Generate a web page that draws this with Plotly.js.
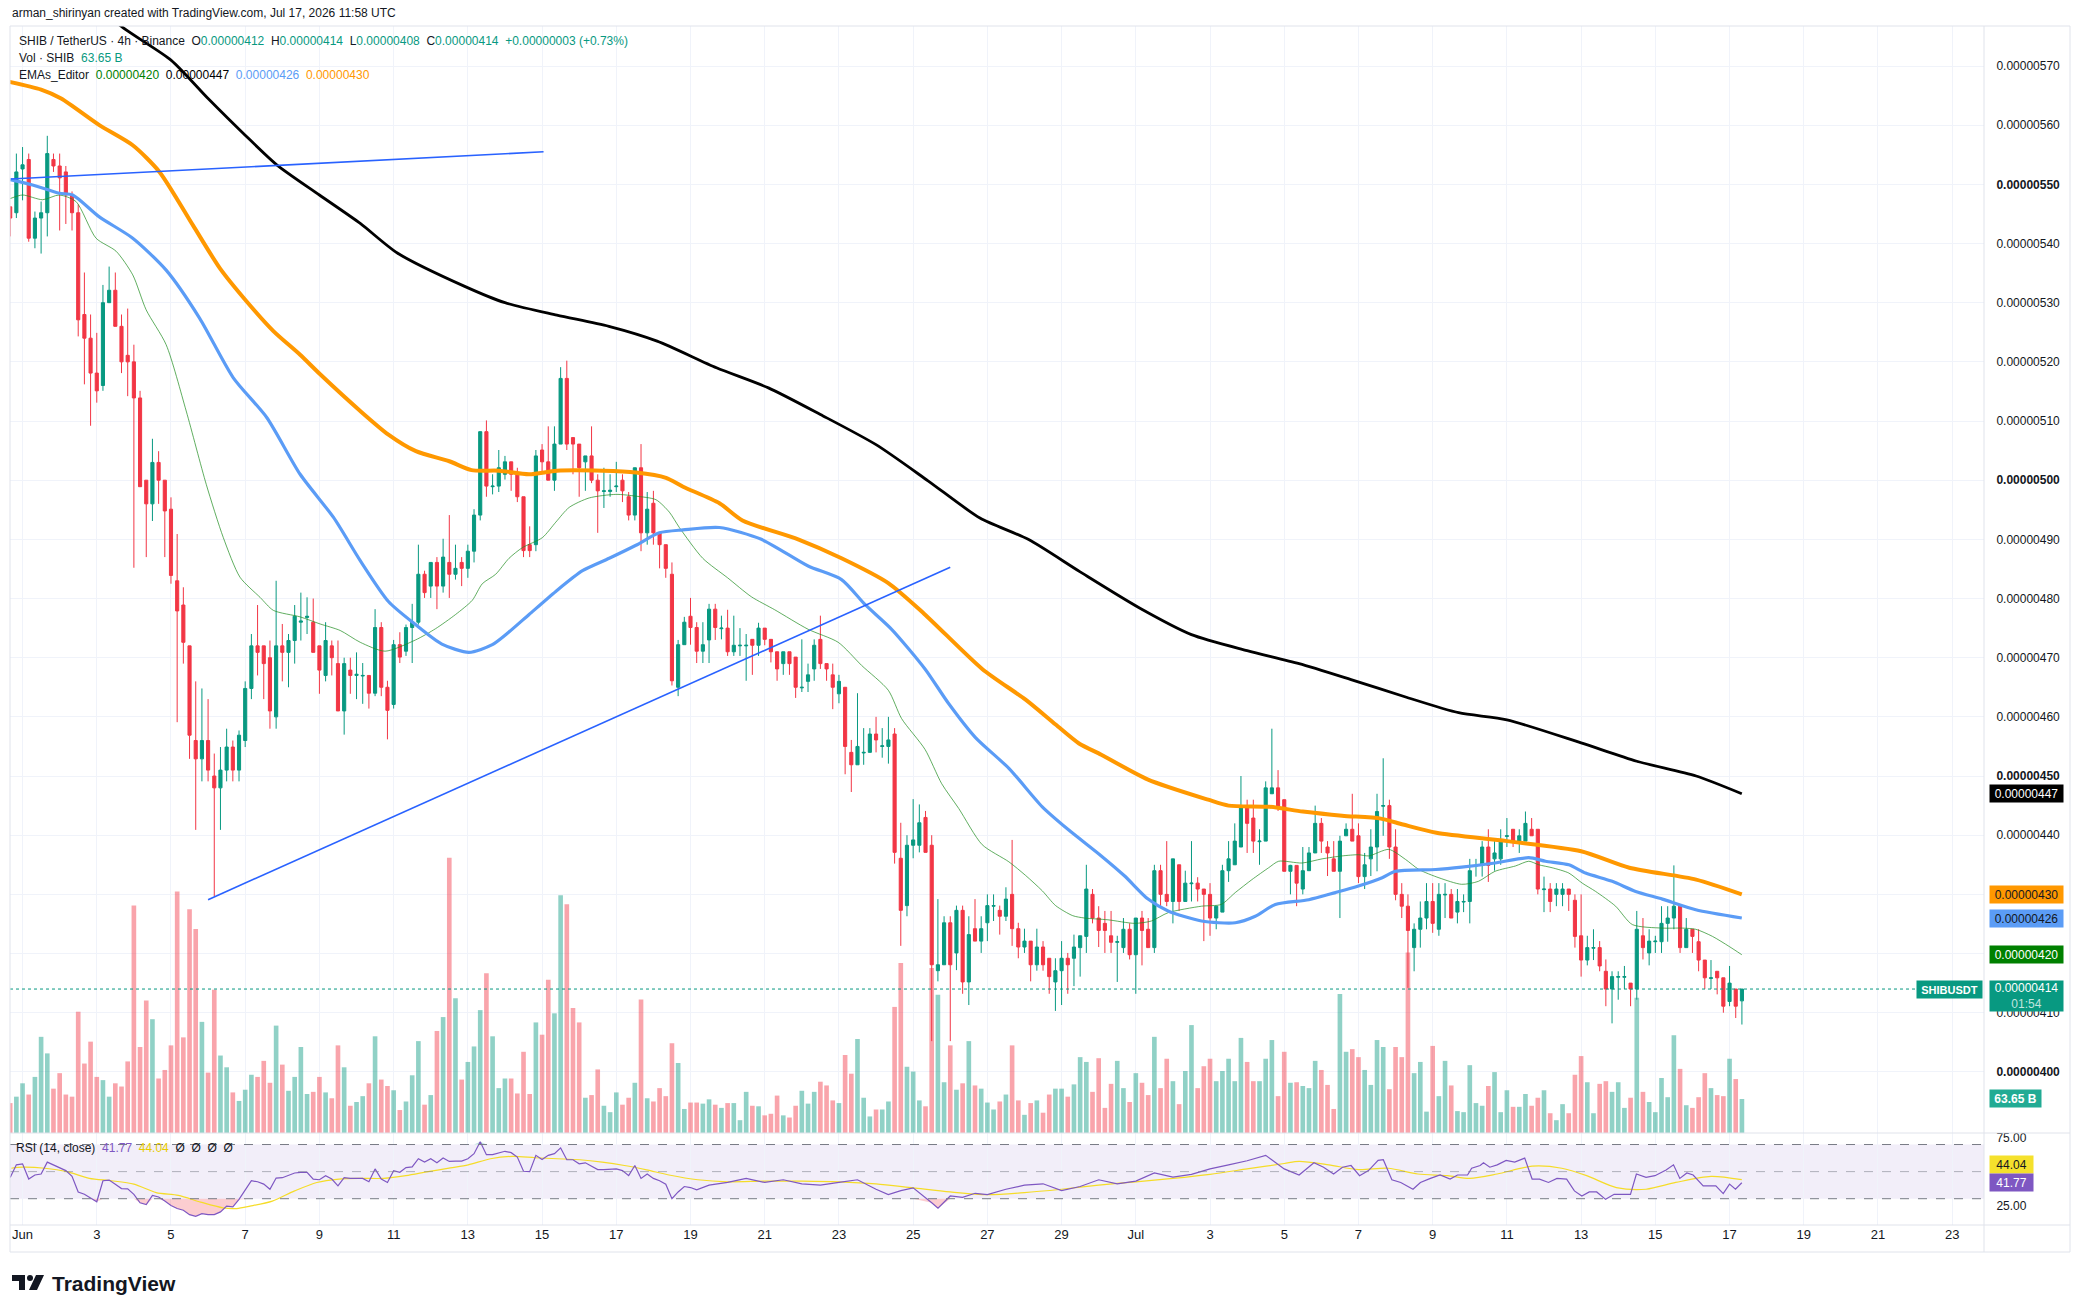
<!DOCTYPE html>
<html><head><meta charset="utf-8">
<script src="https://cdn.plot.ly/plotly-3.0.1.min.js"></script>
<style>html,body{margin:0;padding:0;background:#fff;}#chart{width:2078px;height:1312px;}</style>
</head><body><div id="chart"></div>
<script>
// ---------------- DATA (prices in units of 1e-8 USDT) ----------------
const firstCandle = Date.UTC(2026, 4, 31, 16, 0); // first 4h candle (May 31 16:00)
const candleStepHours = 4;
const dayZero = Date.UTC(2026, 5, 1, 0, 0);        // Jun 1 00:00

const opens = [546.2,545.2,552.6,554.2,540.9,544.3,545.2,554.2,553.1,552.1,
548.2,545.2,528.0,524.0,518.1,516.0,530.0,532.1,526.0,521.1,
520.0,513.9,500.0,496.0,503.0,500.0,495.1,483.0,478.9,472.0,
456.0,452.9,456.0,450.0,448.0,451.0,454.9,451.0,456.0,464.8,
472.0,472.0,470.0,460.0,472.0,470.9,472.9,476.0,476.8,476.0,
472.0,467.0,472.0,469.0,461.0,467.9,467.0,466.9,467.0,464.0,
475.1,465.0,462.1,472.2,471.1,475.1,476.0,484.1,482.1,486.1,
482.1,486.1,484.1,486.1,485.1,488.0,494.1,508.2,498.9,499.0,
501.0,503.1,501.0,497.2,489.1,489.1,505.1,503.1,500.0,506.1,
517.2,507.2,506.1,503.1,504.1,500.0,498.1,498.1,498.9,500.0,
497.2,494.1,502.1,491.1,496.1,491.1,489.1,484.1,465.0,472.2,
477.0,475.1,471.1,473.0,478.2,474.9,475.0,471.0,472.0,472.0,
473.1,472.1,475.0,473.1,471.0,469.0,471.0,470.1,464.9,466.0,
468.1,473.1,469.0,467.1,463.9,465.0,454.0,451.9,453.9,454.0,
457.1,455.0,455.0,457.1,436.1,428.1,438.3,438.3,443.0,438.3,
417.1,418.1,425.2,420.1,427.3,415.2,424.2,422.1,425.2,428.0,
427.3,426.3,430.0,424.2,421.1,422.1,418.1,421.1,419.2,415.2,
417.1,419.2,419.2,421.0,422.9,430.0,426.0,425.1,423.0,421.9,
421.0,424.1,419.8,426.0,424.1,421.0,434.0,430.0,428.8,435.0,
428.8,431.8,431.9,430.9,430.0,426.0,427.0,434.0,435.0,438.0,
445.0,442.9,438.9,439.0,447.0,448.0,446.0,433.9,434.9,430.9,
434.0,437.0,442.0,438.0,436.0,433.9,439.9,441.0,439.9,433.0,
436.0,438.0,444.9,445.0,438.0,430.0,428.0,421.0,424.1,426.0,
428.8,424.1,429.9,430.0,427.0,428.7,428.8,434.8,434.9,438.0,
436.0,436.0,439.8,441.0,439.0,439.0,441.0,441.0,430.8,430.9,
430.0,430.0,430.9,429.0,423.0,418.9,420.9,421.0,417.0,414.0,
416.0,416.0,415.0,414.0,423.0,420.1,422.0,422.0,425.1,426.0,
428.0,421.0,424.1,422.0,418.9,415.8,417.0,415.9,411.9,414.0,
412];
const highs = [546.2,555.2,556.3,555.2,545.4,547.1,558.2,555.2,555.2,553.1,
548.8,546.6,535.1,528.0,524.9,533.0,536.1,535.1,528.0,529.0,
522.9,515.1,500.0,507.0,504.9,500.0,497.1,490.9,481.9,472.0,
466.0,464.8,463.0,453.8,454.9,458.0,456.0,457.7,466.0,474.0,
478.9,472.0,472.9,483.0,475.7,474.0,478.9,481.0,480.2,480.0,
472.0,476.0,472.9,472.9,470.0,470.0,470.9,469.1,467.0,478.2,
476.0,466.1,473.0,474.3,475.6,479.1,489.1,484.7,486.1,487.0,
490.1,494.1,489.1,487.0,489.1,495.1,508.2,510.1,501.0,505.1,
504.1,503.1,502.1,497.2,492.2,505.1,506.1,509.1,509.1,519.1,
520.2,507.2,506.1,504.1,509.1,501.0,502.1,501.0,503.1,501.0,
498.0,502.1,506.1,498.0,498.2,491.1,489.1,486.1,473.0,476.9,
480.1,476.0,476.0,479.1,479.1,477.1,478.1,477.1,475.0,474.0,
473.1,475.9,475.0,473.1,471.0,471.0,471.0,470.1,473.1,469.0,
473.1,477.1,469.0,469.0,467.1,465.0,456.1,464.0,458.1,458.1,
460.0,458.1,460.0,458.1,442.1,440.0,446.1,445.2,444.1,440.0,
429.2,426.3,426.3,428.1,428.1,426.3,429.2,426.3,430.0,430.0,
428.1,431.2,439.2,425.2,424.2,422.1,424.2,422.1,419.2,419.2,
422.1,420.1,423.2,423.0,435.0,430.9,428.0,427.2,427.2,423.0,
426.0,425.1,426.0,427.2,426.0,435.0,435.0,439.0,436.0,435.0,
434.0,439.0,432.9,430.9,431.9,428.0,435.0,439.0,442.0,450.0,
446.0,446.0,441.0,449.1,458.0,451.0,446.0,435.0,434.9,438.0,
438.0,445.0,442.9,439.0,439.0,439.9,442.0,447.0,442.0,437.0,
441.0,447.0,453.0,446.0,441.0,431.9,430.0,425.1,428.8,431.9,
431.9,431.9,431.9,430.9,430.9,430.0,436.0,436.0,439.0,441.0,
439.0,441.0,442.9,441.0,441.0,444.0,442.9,441.0,433.0,431.9,
431.9,431.9,430.9,430.0,430.0,423.0,424.1,422.1,419.0,417.0,
417.0,417.9,415.0,427.2,426.0,424.1,423.0,428.0,428.0,434.9,
428.0,426.0,424.1,424.1,418.9,418.9,417.0,415.9,417.9,414.0,
414];
const lows = [541.2,544.3,547.3,540.3,539.2,538.3,541.2,552.1,542.2,543.3,
542.2,524.3,516.2,509.2,513.1,515.1,530.0,526.0,518.1,514.2,
485.2,498.9,487.0,493.1,496.0,487.0,482.5,459.1,469.0,452.9,
440.9,449.1,449.1,429.7,440.9,449.1,449.1,449.1,454.9,463.0,
467.0,463.0,458.0,458.0,466.0,465.0,469.0,472.9,474.0,470.9,
463.9,466.0,467.0,461.0,457.0,463.9,463.0,462.2,461.4,463.5,
463.5,456.2,461.4,469.1,470.3,469.1,475.6,480.1,480.1,478.2,
481.0,480.1,483.2,482.1,483.5,486.1,493.2,497.2,497.6,498.0,
500.1,498.2,496.3,487.0,487.0,488.0,501.5,500.0,498.2,506.1,
505.1,501.0,497.2,498.2,499.5,491.1,495.3,497.2,498.0,496.3,
493.2,493.2,488.0,489.1,489.1,485.1,483.5,465.3,463.5,472.2,
472.2,469.1,469.1,469.1,473.0,473.1,470.3,470.3,470.3,466.1,
467.1,470.3,472.1,469.2,466.1,467.1,467.1,463.2,464.2,464.2,
466.1,468.1,466.1,461.3,462.3,450.3,447.3,451.9,451.9,454.0,
454.0,453.1,452.1,435.2,421.3,426.3,436.1,437.1,437.1,405.2,
415.3,418.1,405.2,417.2,413.2,411.3,422.1,420.1,422.1,425.5,
423.2,425.5,421.3,419.2,420.1,415.3,417.1,417.1,413.2,410.3,
411.3,413.2,414.5,416.1,420.1,425.1,421.1,420.1,420.1,415.2,
420.1,419.0,413.2,418.0,421.0,420.1,428.0,428.0,425.1,427.2,
428.8,428.8,428.8,422.1,423.0,424.1,427.0,432.1,435.0,438.0,
437.0,437.0,435.0,439.0,447.0,444.1,433.9,430.0,428.0,430.0,
434.0,437.0,437.0,433.1,433.9,426.0,439.9,439.0,431.9,430.9,
433.1,433.9,439.9,436.0,429.0,426.0,414.2,417.0,421.0,424.1,
423.5,423.0,426.0,426.0,425.1,427.0,425.1,433.0,433.0,432.1,
434.0,435.0,438.0,438.0,437.0,439.0,439.9,430.0,427.0,427.0,
428.0,428.0,427.2,421.0,416.1,418.0,418.9,417.0,411.1,408.2,
412.2,414.0,411.1,412.2,419.0,418.0,420.1,420.1,422.0,424.1,
420.1,421.0,420.1,417.0,414.0,414.0,413.1,410.0,411.1,409.1,
408];
const closes = [544.3,552.1,553.3,540.9,544.3,545.2,555.2,553.1,551.1,548.2,
545.2,527.1,524.0,518.1,515.1,530.0,532.1,526.0,520.0,520.0,
513.9,498.9,496.0,503.0,500.0,494.8,483.9,477.9,472.6,456.9,
452.9,456.0,451.0,448.0,451.0,454.9,451.0,456.9,464.8,472.0,
470.9,469.0,461.0,472.0,470.9,472.9,477.0,476.2,477.0,470.9,
467.9,472.9,470.0,461.0,469.0,467.0,467.2,467.0,464.0,475.1,
465.0,461.1,472.2,470.1,475.1,476.0,484.1,481.0,486.1,482.1,
487.0,484.1,485.1,485.1,488.0,494.1,508.2,499.0,499.0,502.1,
503.1,501.0,497.2,488.1,488.1,504.1,503.1,500.0,506.1,517.2,
506.1,506.1,502.1,504.1,500.0,498.2,498.2,498.3,499.0,498.2,
494.1,502.1,491.1,495.1,491.1,489.1,485.1,466.1,472.2,476.0,
475.1,471.1,472.2,478.2,475.1,475.0,471.0,472.1,472.1,472.1,
472.1,475.0,473.1,471.0,468.1,471.0,469.0,465.0,465.0,467.1,
472.1,469.0,468.1,465.0,466.0,455.0,451.9,455.0,454.0,457.1,
456.1,455.1,456.1,437.1,427.3,438.3,439.2,442.1,437.1,418.1,
418.1,425.2,418.1,427.3,415.2,423.2,422.1,424.2,428.1,428.1,
426.3,429.2,424.2,421.1,422.1,418.1,421.1,418.1,416.1,417.1,
419.2,418.1,421.1,423.0,430.9,426.0,423.9,423.9,421.9,422.0,
424.1,419.8,426.0,423.9,421.0,434.0,430.0,428.8,436.0,428.8,
431.9,431.9,430.9,430.0,426.0,428.0,434.0,436.0,439.0,445.0,
442.0,439.0,439.0,448.0,448.0,444.9,433.9,434.9,431.9,434.0,
437.0,442.0,439.0,437.0,433.9,439.0,441.0,439.0,433.0,435.0,
438.0,444.0,445.0,438.0,430.0,428.0,423.9,424.1,426.0,428.8,
425.1,430.0,430.0,426.0,428.8,428.8,434.0,434.9,438.0,434.9,
437.0,439.0,439.9,439.0,439.9,442.0,439.9,430.9,430.9,428.8,
430.9,430.9,430.0,422.9,418.9,421.0,421.0,417.9,414.0,416.1,
416.1,416.1,414.0,424.1,421.0,422.1,422.1,425.1,426.0,428.0,
421.0,424.1,422.9,418.9,415.9,415.9,415.9,411.1,415.0,411.1,
414];
// volume in billions of SHIB
const volumes = [56,68,93,72,105,180,149,83,112,72,
68,227,130,171,105,99,68,93,87,134,
426,161,248,213,102,118,164,452,179,419,
382,208,113,268,145,123,76,60,81,109,
105,135,94,201,128,79,105,161,73,77,
105,76,65,164,123,51,58,69,93,181,
100,88,80,43,59,108,172,53,71,191,
217,515,252,100,133,162,230,299,181,84,
102,102,74,152,73,207,184,287,224,445,
428,234,207,66,71,119,51,39,76,53,
66,94,250,65,59,84,69,168,131,45,
57,57,55,63,53,47,56,56,24,77,
51,50,33,36,70,33,29,51,79,55,
77,96,89,61,56,146,111,176,66,31,
44,44,59,236,318,124,115,61,50,309,
259,95,164,81,93,172,89,83,57,44,
59,72,164,61,34,56,61,38,72,83,
83,68,91,142,133,77,140,47,92,135,
84,58,112,94,71,180,84,139,97,54,
116,202,84,125,139,97,116,139,97,178,
133,97,97,139,174,69,152,94,95,88,
84,135,118,90,45,260,152,157,142,118,
90,174,161,82,161,142,338,112,133,40,
163,69,135,89,41,39,127,56,51,88,
114,39,80,49,49,73,51,66,80,37,
24,54,37,109,144,95,37,92,97,77,
95,47,66,253,77,58,39,103,67,183,
120,52,47,67,112,84,71,69,139,101,
63.65];

// EMA lines, sampled (day offset from Jun 1 00:00, value)
const emaBlackDays = [1.5,2.6,4.0,5.0,6.0,6.85,8.0,9.1,10.1,11.9,13.0,14.4,15.8,17.1,18.7,20.1,21.5,23.0,24.4,25.8,27.1,28.5,30.1,31.5,33.0,34.4,35.8,37.25,38.7,40.0,42.0,43.5,45.1,46.33];
const emaBlackVals = [584,577,571,564.5,558.3,553.3,548.2,543.4,538.4,532.8,530,527.9,526,523.5,519,515.6,511.1,506,499.9,493.6,490,484.5,478.4,473.9,471.2,469,466.3,463.4,460.7,459.5,455.6,452.5,450,447];
const emaOrangeDays = [-0.35,0.5,1.04,2.07,2.97,3.69,4.59,5.32,6.04,6.76,7.48,8.02,9.1,9.86,10.6,11.5,12.1,12.84,13.65,14.4,15.63,16.53,17.34,17.8,18.78,19.4,20.9,22.07,23.33,24.3,25.86,27.03,27.84,28.47,29.07,30.33,31.95,32.5,33.6,34.5,35.56,36.6,37.2,38.1,40,42,43.3,45.1,46.33];
const emaOrangeVals = [567.3,566,564.5,560,556.6,552.1,543.1,535.8,530.2,525.2,521.2,517.9,511.7,507.7,504.9,503.2,501.7,501.6,501,501.6,501.6,501.3,500.4,498.9,496.1,493.2,490,486.8,482.6,477.4,468.1,462.9,458.7,455.5,453.6,449.4,446,445,444.8,444,443.3,442.8,441.8,440.4,439,437.3,434.5,432.5,430];
const emaBlueDays = [-0.33,0.27,0.99,1.35,2.07,2.97,3.87,4.77,5.68,6.58,7.48,8.38,9.1,9.86,10.59,11.3,12.03,12.66,13.1,13.65,14.37,15.09,15.81,16.53,17.16,17.8,18.78,19.91,21.17,22.07,22.7,23.42,24.32,24.95,25.68,26.58,27.48,28.17,29.07,29.7,30.33,30.87,31.77,32.68,33.22,33.76,34.66,35.38,36.0,36.64,37.0,38.08,38.78,39.68,40.59,41.04,41.67,42.12,42.84,43.47,44.19,45.09,46.33];
const emaBlueVals = [550.8,549.9,548.5,548.2,544.5,540.9,535.5,527.4,517.3,510.6,501,493.7,486.4,479.5,475.6,472.3,470.9,472.2,474.3,477.3,481.2,484.7,486.8,489,491.1,491.6,492,490,485.5,483.2,479,474.8,468.1,462.3,456.5,451.3,444.8,441,436.5,433.1,429.2,427.2,425.5,425.2,426.3,428.3,429.1,430.3,431.4,432.8,433.9,434.2,434.6,435.3,436.2,435.6,435,433.6,432.2,430.5,429.2,427.4,426];
const emaGreenDays = [-0.33,0,0.54,0.99,1.44,1.98,2.52,2.97,3.33,3.87,4.41,4.95,5.41,5.86,6.4,6.76,7.48,8.02,8.56,9.1,9.77,10.59,11.13,11.67,12.12,12.39,12.75,13.11,13.47,14.01,14.37,14.73,15.27,15.99,16.53,17.07,17.43,17.7,18.33,19.0,19.64,20.27,21.17,21.98,22.61,23.33,23.69,24.32,24.77,25.23,25.86,26.58,27.03,27.48,27.84,28.3,28.62,29.25,29.97,30.42,30.87,31.77,32.3,32.68,33.13,33.58,33.85,34.48,35.02,35.56,36.0,36.28,36.82,37.27,37.63,38.17,38.78,39.23,39.68,40.23,40.59,40.86,41.22,41.67,42.03,42.39,42.93,43.38,44.19,44.73,45.09,45.54,45.99,46.33];
const emaGreenVals = [547.6,548.2,547.4,548.2,547.1,540.9,538.7,534.7,528.8,522.9,511.7,499.3,490.3,483.6,480.2,478,476.9,475.7,474.6,472.6,471.1,473,474.9,477.3,479.7,482.5,484.1,486.8,488.6,490.3,492.9,495.4,497,497.6,497.3,496.7,494.6,492,486.8,483.5,480.3,478.1,474.8,472.6,468.7,464.5,459.7,454.5,448.7,444.5,438.4,435.5,433.2,430.6,428.1,426.4,426,425.7,425.1,425.5,426.9,428,428.3,430.3,432.5,434.5,435.6,435.3,436,436.5,436.7,436.5,437.6,435.9,434.2,432.8,431.7,432.2,433.9,434.8,435.6,435,434.5,433.6,431.9,430.5,428,424.9,424.3,424.3,424.1,422.9,421.2,419.8];

// Drawn trendlines (day offset, value)
const trend1Days = [-0.32, 14.04], trend1Vals = [550.9, 555.5];
const trend2Days = [5.0, 25.0],    trend2Vals = [429.1, 485.3];

// RSI(14): first values one per candle, later ones sampled by day
const rsiEarly = [45.75,55,55.75,44.5,47.5,48.25,57,55,53.25,50.75,
46.5,35,33.25,30.75,27.75,43.25,43.75,40.75,37.5,37.25,
33.25,27,25.75,32.5,31.25,28.25,25,22.75,21.5,18.25,
17,19,18.25,18.25,20.25,24.5,24,29.5,36.5,43.25,
42.5,40.75,37,45.25,45.5,47.5,49,49.5,49.5,44.5,
44,47,44.5,39.5,45.5,45,45,45,42.5,52,
44.5,42,50.75,49.5,53,53.5,59.5,57,59.5,56.5,
60,57.5,57.75,57.75,59.5,63.25,72,62.5,62.5,63.75,
65,64,60.75,50.25,50,62,59,62,63.25,67.5,
58.75,58.75,55.75,56.5,54,51.5,51.5,51.75,52,50.75,
47,54.5,45,48.25,45,43.25,40.75,30,35,39,
38.25,36.5];
const rsiLateDays = [18.5,19,19.5,20,20.5,21,21.5,22,22.5,23,23.33,23.67,24,24.5,24.67,25,25.33,25.67,26,26.5,27,27.5,28,28.5,29,29.5,30,30.5,31,31.5,32,32.5,33,33.5,34,
34.4,34.6,34.8,35.06,35.33,35.57,35.8,36.03,36.27,36.53,36.67,36.9,37.14,37.47,37.67,37.94,38.2,38.47,38.67,38.94,39.05,39.28,39.37,39.54,39.74,39.98,40.21,40.48,40.68,40.88,41.12,41.35,41.61,41.82,42.02,42.22,42.42,42.66,42.89,43.33,43.49,43.75,43.99,44.29,44.49,44.66,44.85,45.02,45.29,45.63,45.83,46.0,46.16,46.33];
const rsiLateVals = [40,42,45,42,44,41,40,42,44,37,33,36,38,27,23,32,31,34,33,37,40,41,36,39,44,41,43,49,46,48,52,55,58,62,52,
47.5,52,56.5,53.25,48.25,53.25,54.5,47,50.75,58.25,58.75,44,42,37,42,45,47.5,44.5,47.5,47.5,52.5,54.5,56.5,53.25,55,58.25,57,60,44.5,44.5,42,45,44.5,35.75,32,35,35,29.5,33.25,33.25,48.25,45.75,47,51.25,55,45,49,47.5,39.5,39.5,33.75,40.75,37,41.77];
const rsiMaDays = [-0.3,0,0.6,1.2,1.8,2.4,3.0,3.6,4.2,4.8,5.4,5.77,6.13,6.73,7.33,7.93,8.53,9.13,9.73,10.33,10.93,11.53,12.01,12.61,13.21,13.81,14.41,15.02,15.62,16.22,16.82,17.42,18.2,19,20,21,22,23,24,25,26,27,28,29,30,31,32,33,34,34.4,35.2,36,36.8,37.6,38.4,39.0,39.74,40.68,41.48,42.15,42.95,43.75,44.55,45.5,46.33];
const rsiMaVals = [52.5,53.25,52.5,50,45,43.25,40.75,34.5,32.5,27.5,23.25,22.75,24.5,28.25,35.75,42,44.5,45,45,47,50,52.75,55,59.5,61.25,60.25,59.5,58.75,57,54.5,51.25,47.5,44,42.5,43,43,42.5,41,38,35,33,34.5,37,40,42.5,45,48,52,56,57.5,55,51.5,52.5,48.25,47,45,48.25,54,52.5,47,38.25,37,42,46.5,44.04];

const priceTicks = [400,410,420,430,440,450,460,470,480,490,500,510,520,530,540,550,560,570];
const dateTickDays = []; for (let d = 0; d <= 52; d += 2) dateTickDays.push(d);
const dateTickText = ['Jun','3','5','7','9','11','13','15','17','19','21','23','25','27','29','Jul','3','5','7','9','11','13','15','17','19','21','23'];

// ---------------- helpers ----------------
const fmt = ms => new Date(ms).toISOString().slice(0,16).replace('T',' ');
const dayX = d => fmt(dayZero + d*86400000);
const times = opens.map((_, i) => fmt(firstCandle + i*candleStepHours*3600000));
const toPrice = v => (v*1e-8).toFixed(8);

const fontUI = '"Liberation Sans Narrow","Liberation Sans",Arial,sans-serif';
const fontAx = '"Liberation Sans",Arial,sans-serif';
const TXT = '#131722', UP = '#089981', DN = '#f23645';
const PL = 10, PR = 1984, PT = 26, PB = 1225, MAINB = 1133;
const pxX = x => (x - PL)/(PR - PL);
const pxY = y => (PB - y)/(PB - PT);
const dMain = (PB - MAINB)/(PB - PT);

// ---------------- traces ----------------
const traces = [];
traces.push({type:'bar', x:times, y:volumes, xaxis:'x', yaxis:'y',
  marker:{color:closes.map((c,i)=> c>=opens[i] ? 'rgba(8,153,129,0.45)' : 'rgba(242,54,69,0.45)'), line:{width:0}},
  hoverinfo:'skip'});
traces.push({type:'candlestick', x:times, open:opens, high:highs, low:lows, close:closes, xaxis:'x', yaxis:'y2',
  increasing:{line:{color:UP, width:1}, fillcolor:UP}, decreasing:{line:{color:DN, width:1}, fillcolor:DN},
  whiskerwidth:0, hoverinfo:'skip'});
const lineTrace = (days, vals, color, width) => ({type:'scatter', mode:'lines', x:days.map(dayX), y:vals,
  xaxis:'x', yaxis:'y2', line:{color, width, shape:'spline', smoothing:0.7}, hoverinfo:'skip'});
traces.push(lineTrace(emaGreenDays, emaGreenVals, 'rgba(30,140,30,0.7)', 1));
traces.push(lineTrace(emaBlueDays, emaBlueVals, '#5b9cf6', 3.2));
traces.push(lineTrace(emaOrangeDays, emaOrangeVals, '#ff9800', 4));
traces.push(lineTrace(emaBlackDays, emaBlackVals, '#000000', 2.8));
traces.push({type:'scatter', mode:'lines', x:trend1Days.map(dayX), y:trend1Vals, xaxis:'x', yaxis:'y2', line:{color:'#2962ff', width:1.6}, hoverinfo:'skip'});
traces.push({type:'scatter', mode:'lines', x:trend2Days.map(dayX), y:trend2Vals, xaxis:'x', yaxis:'y2', line:{color:'#2962ff', width:1.6}, hoverinfo:'skip'});

const rsiX = times.slice(0, rsiEarly.length).concat(rsiLateDays.map(dayX));
const rsiY = rsiEarly.concat(rsiLateVals);
traces.push({type:'scatter', mode:'lines', x:rsiX, y:rsiX.map(()=>30), xaxis:'x', yaxis:'y3', line:{width:0, color:'rgba(0,0,0,0)'}, hoverinfo:'skip'});
traces.push({type:'scatter', mode:'lines', x:rsiX, y:rsiY.map(v=>Math.min(v,30)), xaxis:'x', yaxis:'y3', fill:'tonexty', fillcolor:'rgba(242,54,69,0.25)', line:{width:0, color:'rgba(0,0,0,0)'}, hoverinfo:'skip'});
traces.push({type:'scatter', mode:'lines', x:rsiX, y:rsiX.map(()=>70), xaxis:'x', yaxis:'y3', line:{width:0, color:'rgba(0,0,0,0)'}, hoverinfo:'skip'});
traces.push({type:'scatter', mode:'lines', x:rsiX, y:rsiY.map(v=>Math.max(v,70)), xaxis:'x', yaxis:'y3', fill:'tonexty', fillcolor:'rgba(8,153,129,0.25)', line:{width:0, color:'rgba(0,0,0,0)'}, hoverinfo:'skip'});
traces.push({type:'scatter', mode:'lines', x:rsiMaDays.map(dayX), y:rsiMaVals, xaxis:'x', yaxis:'y3', line:{color:'#f5dc28', width:1.2, shape:'spline', smoothing:0.8}, hoverinfo:'skip'});
traces.push({type:'scatter', mode:'lines', x:rsiX, y:rsiY, xaxis:'x', yaxis:'y3', line:{color:'#7e57c2', width:1.2}, hoverinfo:'skip'});

// ---------------- shapes ----------------
const FR = 2070, FB = 1252;
const frameCol = '#e0e3eb';
const hline = (y, x0, x1, color, w) => ({type:'line', xref:'paper', yref:'paper', x0:pxX(x0), x1:pxX(x1), y0:pxY(y), y1:pxY(y), line:{color, width:w}});
const vline = (x, y0, y1, color, w) => ({type:'line', xref:'paper', yref:'paper', x0:pxX(x), x1:pxX(x), y0:pxY(y0), y1:pxY(y1), line:{color, width:w}});
const shapes = [
  {type:'rect', xref:'paper', yref:'y3', x0:0, x1:1, y0:30, y1:70, fillcolor:'rgba(126,87,194,0.1)', line:{width:0}, layer:'below'},
  {type:'line', xref:'paper', yref:'y3', x0:0, x1:1, y0:70, y1:70, line:{color:'#787b86', width:1, dash:'dash'}},
  {type:'line', xref:'paper', yref:'y3', x0:0, x1:1, y0:50, y1:50, line:{color:'rgba(120,123,134,0.55)', width:1, dash:'dash'}},
  {type:'line', xref:'paper', yref:'y3', x0:0, x1:1, y0:30, y1:30, line:{color:'#787b86', width:1, dash:'dash'}},
  {type:'line', xref:'paper', yref:'y2', x0:0, x1:1, y0:closes[closes.length-1], y1:closes[closes.length-1], line:{color:UP, width:1, dash:'dot'}},
  hline(PT, PL, FR, frameCol, 1), hline(MAINB, PL, FR, frameCol, 1), hline(PB, PL, FR, frameCol, 1), hline(FB, PL, FR, frameCol, 1),
  vline(PL, PT, FB, frameCol, 1), vline(PR, PT, FB, frameCol, 1), vline(FR, PT, FB, frameCol, 1),
  // TradingView logo glyph
  {type:'rect', xref:'paper', yref:'paper', x0:pxX(12), x1:pxX(25), y0:pxY(1275), y1:pxY(1281), fillcolor:'#131722', line:{width:0}},
  {type:'rect', xref:'paper', yref:'paper', x0:pxX(19), x1:pxX(25), y0:pxY(1275), y1:pxY(1290), fillcolor:'#131722', line:{width:0}},
  {type:'circle', xref:'paper', yref:'paper', x0:pxX(27), x1:pxX(33), y0:pxY(1275), y1:pxY(1281), fillcolor:'#131722', line:{width:0}},
  {type:'path', xref:'paper', yref:'paper', path:`M ${pxX(36)} ${pxY(1275)} L ${pxX(44)} ${pxY(1275)} L ${pxX(37)} ${pxY(1290)} L ${pxX(29)} ${pxY(1290)} Z`, fillcolor:'#131722', line:{width:0}}
];

// ---------------- annotations ----------------
const sp = '\u00a0\u00a0';
const teal = s => `<span style="color:${UP}">${s}</span>`;
const lastIdx = closes.length - 1;
const chg = closes[lastIdx] - closes[lastIdx-1];
const ann = [];
const txt = (x, y, text, size, extra) => Object.assign({xref:'paper', yref:'paper', x:pxX(x), y:pxY(y), xanchor:'left', yanchor:'middle', showarrow:false, text, font:{family:fontUI, size, color:TXT}}, extra||{});
ann.push(txt(10, 13, 'arman_shirinyan created with TradingView.com, Jul 17, 2026 11:58 UTC', 12));
ann.push(txt(17, 41, 'SHIB / TetherUS · 4h · Binance' + sp + 'O' + teal(toPrice(opens[lastIdx])) + sp + 'H' + teal(toPrice(highs[lastIdx])) + sp + 'L' + teal(toPrice(lows[lastIdx])) + sp + 'C' + teal(toPrice(closes[lastIdx])) + sp + teal('+' + toPrice(chg) + ' (+0.73%)'), 12));
ann.push(txt(17, 58, 'Vol · SHIB' + sp + teal(volumes[lastIdx].toFixed(2) + '\u00a0B'), 12));
ann.push(txt(17, 75, 'EMAs_Editor' + sp + `<span style="color:#008000">${toPrice(emaGreenVals[emaGreenVals.length-1])}</span>` + sp + `<span style="color:#000">${toPrice(emaBlackVals[emaBlackVals.length-1])}</span>` + sp + `<span style="color:#5b9cf6">${toPrice(emaBlueVals[emaBlueVals.length-1])}</span>` + sp + `<span style="color:#ff9800">${toPrice(emaOrangeVals[emaOrangeVals.length-1])}</span>`, 12));
ann.push(txt(14, 1148, 'RSI (14, close)' + sp + `<span style="color:#7e57c2">${rsiLateVals[rsiLateVals.length-1].toFixed(2)}</span>` + sp + `<span style="color:#e8cc00">${rsiMaVals[rsiMaVals.length-1].toFixed(2)}</span>` + sp + 'Ø' + sp + 'Ø' + sp + 'Ø' + sp + 'Ø', 12));
ann.push(txt(50, 1283, '<b>TradingView</b>', 21, {font:{family:fontAx, size:21, color:'#131722'}}));

const box = (yref, y, text, bg, fg, w, extra) => Object.assign({xref:'paper', x:1, xanchor:'left', xshift:5, yref, y, yanchor:'middle', showarrow:false, text, bgcolor:bg, width:w, height:14, borderpad:1.5, align:'center', font:{family:fontAx, size:12, color:fg}}, extra||{});
ann.push(box('y2', emaBlackVals[emaBlackVals.length-1], toPrice(emaBlackVals[emaBlackVals.length-1]), '#000000', '#ffffff', 70));
ann.push(box('y2', emaOrangeVals[emaOrangeVals.length-1], toPrice(emaOrangeVals[emaOrangeVals.length-1]), '#ff9800', '#131722', 70));
ann.push(box('y2', emaBlueVals[emaBlueVals.length-1], toPrice(emaBlueVals[emaBlueVals.length-1]), '#5b9cf6', '#131722', 70));
ann.push(box('y2', emaGreenVals[emaGreenVals.length-1], toPrice(emaGreenVals[emaGreenVals.length-1]), '#008000', '#ffffff', 70));
ann.push(box('y2', closes[lastIdx], toPrice(closes[lastIdx]) + '<br><span style="color:rgba(255,255,255,0.75)">01:54</span>', UP, '#ffffff', 70, {yanchor:'top', yshift:9, height:27}));
ann.push(box('y2', closes[lastIdx], '<b>SHIBUSDT</b>', UP, '#ffffff', 62, {xanchor:'right', xshift:-1, font:{family:fontAx, size:11, color:'#ffffff'}}));
ann.push(box('y', volumes[lastIdx], '<b>' + volumes[lastIdx].toFixed(2) + '\u00a0B</b>', '#22ab94', '#ffffff', 48));
ann.push(box('y3', rsiMaVals[rsiMaVals.length-1], rsiMaVals[rsiMaVals.length-1].toFixed(2), '#f5e12c', '#131722', 40, {yshift:15}));
ann.push(box('y3', rsiLateVals[rsiLateVals.length-1], rsiLateVals[rsiLateVals.length-1].toFixed(2), '#7e57c2', '#ffffff', 40));

// ---------------- layout ----------------
const layout = {
  width:2078, height:1312, margin:{l:PL, r:2078-PR, t:PT, b:1312-PB, pad:0},
  paper_bgcolor:'#ffffff', plot_bgcolor:'#ffffff', showlegend:false, hovermode:false, dragmode:false,
  bargap:0.25, boxgap:0.28,
  xaxis:{type:'date', anchor:'y3', range:[dayX(-0.3377), dayX(52.857)],
    tickmode:'array', tickvals:dateTickDays.map(dayX), ticktext:dateTickText,
    showgrid:true, gridcolor:'#f0f3fa', gridwidth:1, ticks:'', zeroline:false, showline:false,
    tickfont:{family:fontUI, size:13, color:TXT}, rangeslider:{visible:false}, fixedrange:true},
  yaxis:{domain:[dMain, 1], range:[0, 2072], visible:false, showgrid:false, zeroline:false, fixedrange:true},
  yaxis2:{overlaying:'y', side:'right', anchor:'x', range:[389.67, 576.76], tickmode:'array', tickvals:priceTicks,
    ticktext:priceTicks.map(v => v % 50 === 0 ? '<b>' + toPrice(v) + '</b>' : toPrice(v)),
    showgrid:true, gridcolor:'#f0f3fa', gridwidth:1, zeroline:false, showline:false,
    ticks:'outside', ticklen:9, tickcolor:'rgba(0,0,0,0)', tickfont:{family:fontAx, size:12, color:TXT}, fixedrange:true},
  yaxis3:{domain:[0, dMain], side:'right', anchor:'x', range:[10.6, 78.5], tickmode:'array', tickvals:[25,75], ticktext:['25.00','75.00'],
    showgrid:false, zeroline:false, showline:false, ticks:'outside', ticklen:9, tickcolor:'rgba(0,0,0,0)',
    tickfont:{family:fontAx, size:12, color:TXT}, fixedrange:true},
  shapes, annotations:ann
};
Plotly.newPlot('chart', traces, layout, {staticPlot:true, displayModeBar:false});
</script>
</body></html>
